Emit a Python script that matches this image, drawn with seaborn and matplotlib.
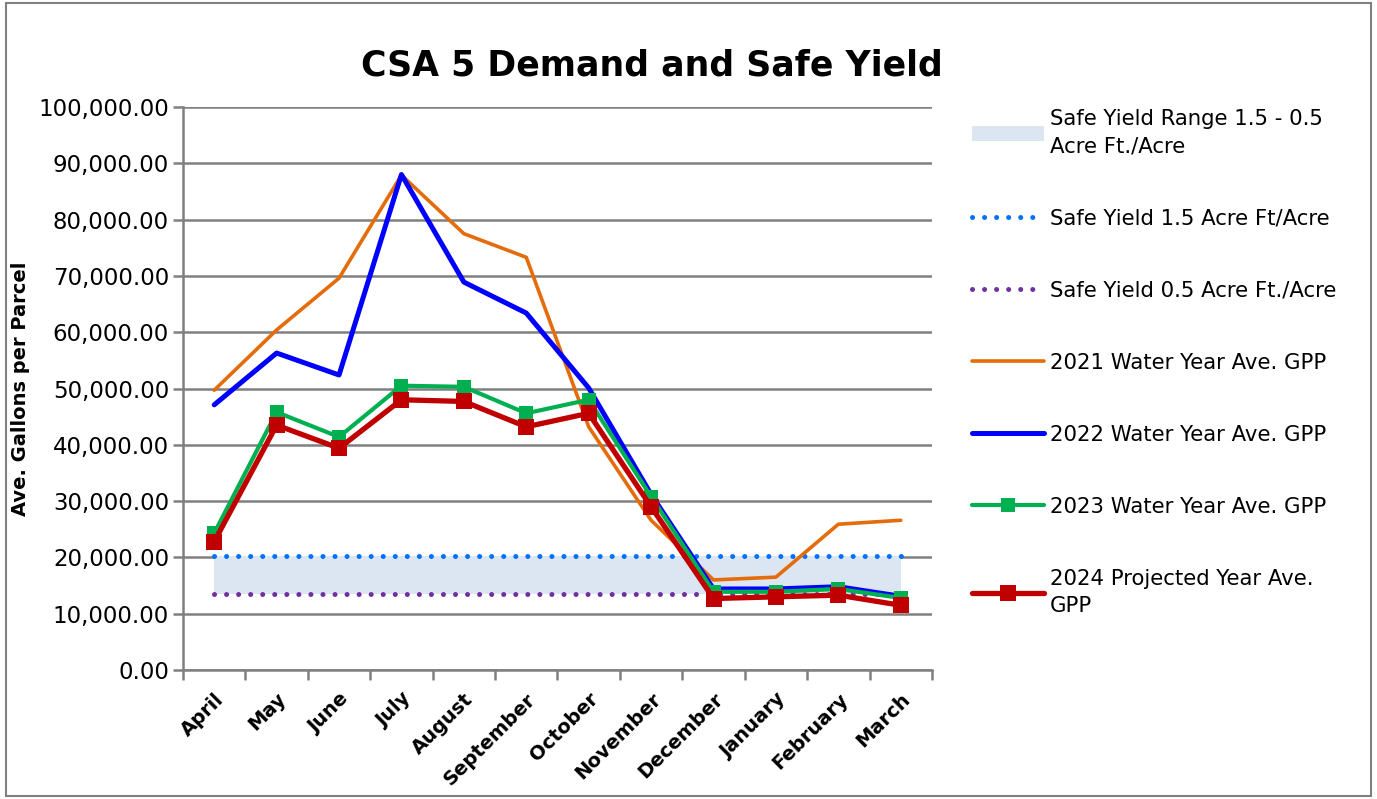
import matplotlib
matplotlib.use("Agg")
import matplotlib.pyplot as plt
import matplotlib.ticker as mticker
from matplotlib.lines import Line2D
from matplotlib.patches import Patch, Rectangle
import pandas as pd
import seaborn as sns

# Datos
meses = ["April", "May", "June", "July", "August", "September",
         "October", "November", "December", "January", "February", "March"]
gpp_2021 = [49700, 60400, 69600, 87900, 77500, 73300,
            43200, 26600, 16000, 16500, 25900, 26600]
gpp_2022 = [47100, 56300, 52400, 88000, 68900, 63400,
            50100, 31200, 14400, 14400, 14800, 13100]
gpp_2023 = [24300, 45800, 41400, 50500, 50300, 45600,
            48000, 30800, 13900, 13900, 14400, 12800]
gpp_2024 = [22800, 43500, 39400, 48000, 47700, 43200,
            45600, 29000, 12700, 13000, 13300, 11500]
safe_yield_15 = 20300
safe_yield_05 = 13500

COLOR_NARANJA = "#E46C0A"
COLOR_AZUL = "#0000FF"
COLOR_VERDE = "#00B050"
COLOR_ROJO = "#C00000"
COLOR_DOT_AZUL = "#0070FF"
COLOR_DOT_MORADO = "#7030A0"
COLOR_BANDA = "#DCE6F2"
COLOR_GRID = "#808080"

sns.set_theme(style="white")
plt.rcParams["font.family"] = ["DejaVu Sans"]
plt.rcParams.update({
    "text.color": "black",
    "axes.labelcolor": "black",
    "xtick.color": "black",
    "ytick.color": "black",
})

pos = list(range(len(meses)))
df = pd.DataFrame({
    "pos": pos,
    "2021": gpp_2021,
    "2022": gpp_2022,
    "2023": gpp_2023,
    "2024": gpp_2024,
})

fig = plt.figure(figsize=(13.77, 7.99), dpi=100)
ax = fig.add_axes([0.1329, 0.1614, 0.5439, 0.7047])

# Banda de safe yield
ax.fill_between(pos, safe_yield_05, safe_yield_15, color=COLOR_BANDA, zorder=1, linewidth=0)
dots = (0, (0.01, 2.4))
ax.plot(pos, [safe_yield_15] * len(pos), color=COLOR_DOT_AZUL, lw=3.6,
        linestyle=dots, dash_capstyle="round", zorder=2)
ax.plot(pos, [safe_yield_05] * len(pos), color=COLOR_DOT_MORADO, lw=3.6,
        linestyle=dots, dash_capstyle="round", zorder=2)

sns.lineplot(data=df, x="pos", y="2021", ax=ax, color=COLOR_NARANJA, lw=2.6, zorder=3)
sns.lineplot(data=df, x="pos", y="2022", ax=ax, color=COLOR_AZUL, lw=3.6, zorder=4)
sns.lineplot(data=df, x="pos", y="2023", ax=ax, color=COLOR_VERDE, lw=3.0,
             marker="s", markersize=10, markeredgewidth=0, zorder=5)
sns.lineplot(data=df, x="pos", y="2024", ax=ax, color=COLOR_ROJO, lw=3.8,
             marker="s", markersize=11, markeredgewidth=0, zorder=6)

ax.set_xlim(-0.5, len(meses) - 0.5)
ax.set_ylim(0, 100000)
ax.yaxis.set_major_locator(mticker.MultipleLocator(10000))
ax.yaxis.set_major_formatter(mticker.FuncFormatter(lambda v, _: f"{v:,.2f}"))
ax.grid(True, axis="y", color=COLOR_GRID, linewidth=1.8, zorder=0)
ax.set_axisbelow(True)

# Ticks mayores entre categorías, etiquetas en el centro
ax.set_xticks([p - 0.5 for p in pos] + [len(meses) - 0.5])
ax.set_xticklabels([])
ax.set_xticks(pos, minor=True)
ax.set_xticklabels(meses, minor=True, rotation=45, ha="right", rotation_mode="anchor",
                   fontsize=14, fontweight="bold")
ax.tick_params(axis="x", which="major", length=7, width=1.8, color=COLOR_GRID, direction="out", bottom=True)
ax.tick_params(axis="x", which="minor", length=0, pad=14)
ax.tick_params(axis="y", length=7, width=1.8, color=COLOR_GRID, direction="out", left=True,
               labelsize=16.5, pad=3)

for lado in ["top", "right"]:
    ax.spines[lado].set_visible(False)
for lado in ["left", "bottom"]:
    ax.spines[lado].set_color(COLOR_GRID)
    ax.spines[lado].set_linewidth(1.8)

ax.set_xlabel("")
ax.set_ylabel("Ave. Gallons per Parcel", fontsize=14, fontweight="bold", labelpad=6)

fig.text(0.4735, 0.918, "CSA 5 Demand and Safe Yield", ha="center", va="center",
         fontsize=25, fontweight="bold")

handles = [
    Patch(facecolor=COLOR_BANDA, edgecolor="none"),
    Line2D([], [], color=COLOR_DOT_AZUL, lw=3.6, linestyle=dots, dash_capstyle="round"),
    Line2D([], [], color=COLOR_DOT_MORADO, lw=3.6, linestyle=dots, dash_capstyle="round"),
    Line2D([], [], color=COLOR_NARANJA, lw=2.6),
    Line2D([], [], color=COLOR_AZUL, lw=3.6),
    Line2D([], [], color=COLOR_VERDE, lw=3.0, marker="s", markersize=10, markeredgewidth=0),
    Line2D([], [], color=COLOR_ROJO, lw=3.8, marker="s", markersize=11, markeredgewidth=0),
]
labels = [
    "Safe Yield Range 1.5 - 0.5\nAcre Ft./Acre",
    "Safe Yield 1.5 Acre Ft/Acre",
    "Safe Yield 0.5 Acre Ft./Acre",
    "2021 Water Year Ave. GPP",
    "2022 Water Year Ave. GPP",
    "2023 Water Year Ave. GPP",
    "2024 Projected Year Ave.\nGPP",
]
leg = fig.legend(handles, labels, loc="upper left", bbox_to_anchor=(0.692, 0.887),
                 frameon=False, fontsize=15.3, handlelength=3.4, handletextpad=0.25,
                 labelspacing=2.45)
for t in leg.get_texts():
    t.set_linespacing(1.45)

# Marco exterior del gráfico
fig.patches.append(Rectangle((0.004, 0.004), 0.992, 0.992, transform=fig.transFigure,
                             fill=False, edgecolor="#7F7F7F", linewidth=1.5))

fig.savefig("out.png", dpi=100)
plt.close(fig)
